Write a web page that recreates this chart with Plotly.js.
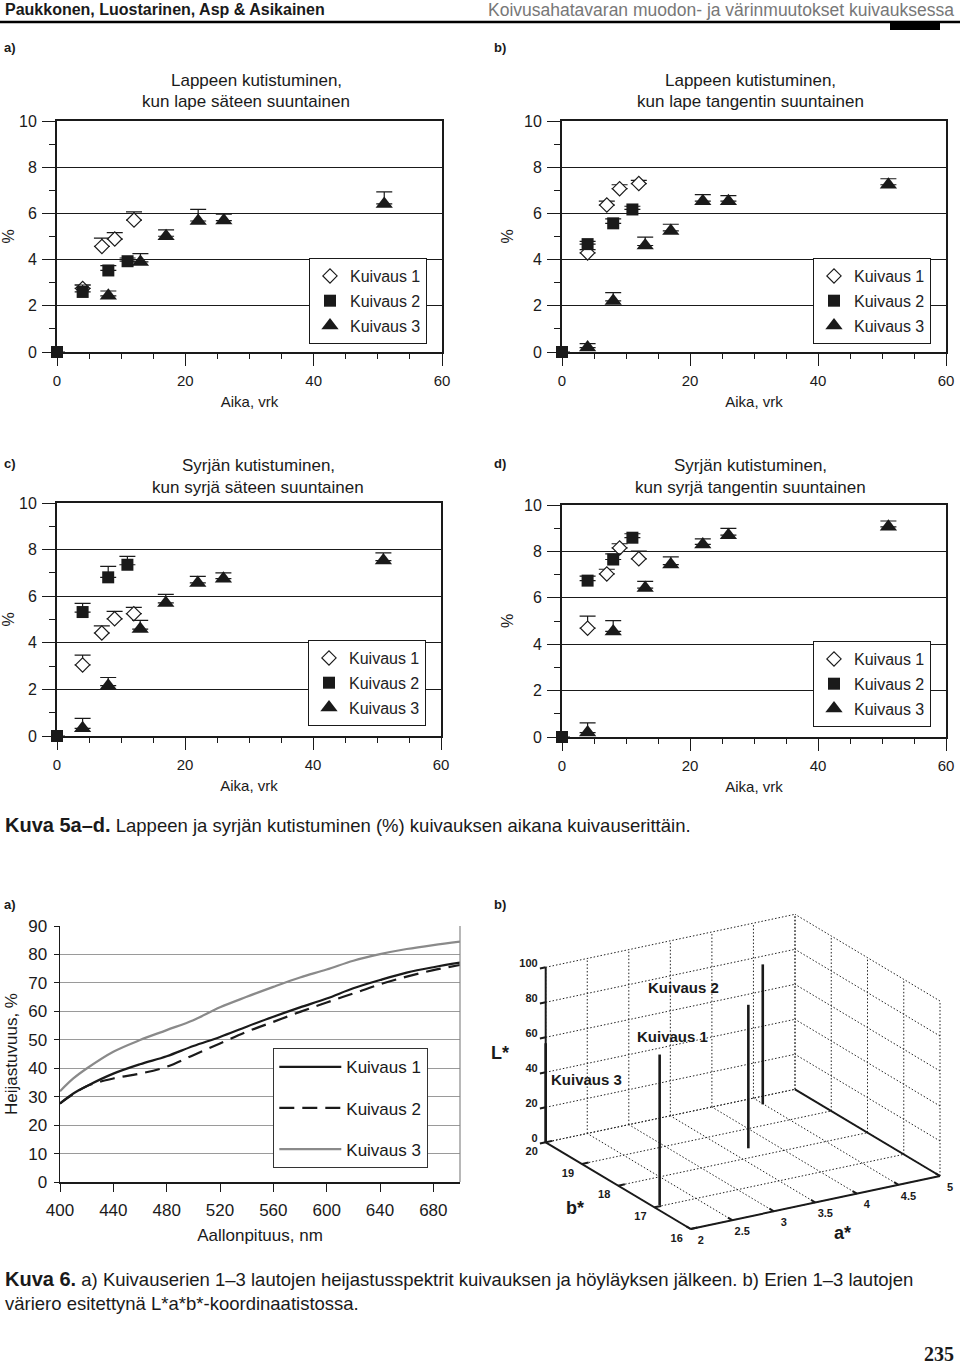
<!DOCTYPE html>
<html>
<head>
<meta charset="utf-8">
<script src="https://cdn.plot.ly/plotly-3.0.1.min.js"></script>
<style>html,body{margin:0;padding:0;background:#fff;}#chart{width:960px;height:1365px;}</style>
</head>
<body>
<div id="chart"></div>
<script>
// ---------- DATA ----------
const seriesNames = ['Kuivaus 1', 'Kuivaus 2', 'Kuivaus 3'];

// Kuva 5a: Lappeen kutistuminen, kun lape säteen suuntainen
const aK1x = [4, 7, 9, 12];            const aK1y = [2.75, 4.57, 4.89, 5.71];  const aK1e = [0.15, 0.36, 0.28, 0.36];
const aK2x = [0, 4, 8, 11];            const aK2y = [0, 2.6, 3.53, 3.93];      const aK2e = [null, 0.3, 0.21, 0.14];
const aK3x = [8, 13, 17, 22, 26, 51];  const aK3y = [2.43, 3.9, 5.01, 5.67, 5.69, 6.41]; const aK3e = [0.21, 0.36, 0.28, 0.5, 0.28, 0.52];

// Kuva 5b: Lappeen kutistuminen, kun lape tangentin suuntainen
const bK1x = [4, 7, 9, 12];            const bK1y = [4.29, 6.36, 7.07, 7.29];  const bK1e = [0.14, 0.17, 0.17, 0.14];
const bK2x = [0, 4, 8, 11];            const bK2y = [0, 4.67, 5.57, 6.17];     const bK2e = [null, 0.12, 0.19, 0.14];
const bK3x = [4, 8, 13, 17, 22, 26, 51]; const bK3y = [0.19, 2.21, 4.61, 5.24, 6.53, 6.53, 7.24]; const bK3e = [0.17, 0.36, 0.36, 0.29, 0.28, 0.24, 0.26];

// Kuva 5c: Syrjän kutistuminen, kun syrjä säteen suuntainen
const cK1x = [4, 7, 9, 12];            const cK1y = [3.05, 4.42, 5.03, 5.25];  const cK1e = [0.42, 0.31, 0.32, 0.27];
const cK2x = [0, 4, 8, 11];            const cK2y = [0, 5.32, 6.81, 7.35];     const cK2e = [null, 0.37, 0.47, 0.36];
const cK3x = [4, 8, 13, 17, 22, 26, 51]; const cK3y = [0.33, 2.16, 4.59, 5.71, 6.57, 6.75, 7.53]; const cK3e = [0.43, 0.35, 0.37, 0.37, 0.28, 0.25, 0.33];

// Kuva 5d: Syrjän kutistuminen, kun syrjä tangentin suuntainen
const dK1x = [4, 7, 9, 12];            const dK1y = [4.69, 7.03, 8.15, 7.68];  const dK1e = [0.52, 0.2, 0.18, 0.33];
const dK2x = [0, 4, 8, 11];            const dK2y = [0, 6.74, 7.65, 8.59];     const dK2e = [null, 0.19, 0.24, 0.17];
const dK3x = [4, 8, 13, 17, 22, 26, 51]; const dK3y = [0.19, 4.55, 6.42, 7.43, 8.3, 8.7, 9.06]; const dK3e = [0.42, 0.47, 0.29, 0.33, 0.24, 0.29, 0.25];

// Kuva 6a: heijastusspektrit
const wavelength = [400, 410, 420, 440, 460, 480, 500, 520, 540, 560, 580, 600, 620, 640, 660, 680, 700];
const refl1 = [27.6, 31.1, 33.7, 38.1, 41.4, 44.2, 47.8, 51.0, 54.6, 58.1, 61.4, 64.5, 68.1, 71.0, 73.6, 75.5, 77.1];
const refl2 = [27.6, 30.9, 33.7, 36.4, 38.1, 40.5, 44.6, 48.7, 52.8, 56.3, 59.8, 63.1, 66.3, 69.5, 72.2, 74.5, 76.3];
const refl3 = [31.9, 36.4, 39.9, 45.8, 49.9, 53.4, 56.9, 61.4, 65.1, 68.6, 71.9, 74.7, 77.8, 80.1, 81.9, 83.3, 84.5];

// Kuva 6b: L*a*b* (vertical stems)
const stemA = [2.0, 2.08, 3.71, 4.49];
const stemB = [20, 17.04, 18.33, 19.72];
const stemL = [56.6, 86, 82, 80];
const aTicks = [2, 2.5, 3, 3.5, 4, 4.5, 5];
const bTicks = [16, 17, 18, 19, 20];
const LTicks = [0, 20, 40, 60, 80, 100];

// ---------- HELPERS ----------
const W = 960, H = 1365;
const px = v => v / W;
const py = v => 1 - v / H;
const FONT = 'Liberation Sans, Arial, Helvetica, sans-serif';
const INK = '#1a1a1a';

const markerStyles = [
  {symbol: 'diamond', size: 11, color: 'white', line: {color: INK, width: 1.2}},
  {symbol: 'square', size: 12, color: INK, line: {color: INK, width: 0}},
  {symbol: 'triangle-up', size: 15, color: INK, line: {color: INK, width: 0}}
];

const traces = [];
function addPanel(idx, legendId, sets) {
  const xa = idx === 1 ? 'x' : 'x' + idx;
  const ya = idx === 1 ? 'y' : 'y' + idx;
  sets.forEach((s, k) => {
    traces.push({
      type: 'scatter', mode: 'markers',
      x: s[0], y: s[1],
      name: seriesNames[k],
      legend: legendId, legendgroup: legendId + '_' + k,
      xaxis: xa, yaxis: ya,
      cliponaxis: false,
      marker: markerStyles[k],
      error_y: {type: 'data', symmetric: false, array: s[2], arrayminus: s[2].map(() => 0),
                color: INK, thickness: 1.2, width: 8},
      hoverinfo: 'x+y'
    });
  });
}
addPanel(1, 'legend',  [[aK1x, aK1y, aK1e], [aK2x, aK2y, aK2e], [aK3x, aK3y, aK3e]]);
addPanel(2, 'legend2', [[bK1x, bK1y, bK1e], [bK2x, bK2y, bK2e], [bK3x, bK3y, bK3e]]);
addPanel(3, 'legend3', [[cK1x, cK1y, cK1e], [cK2x, cK2y, cK2e], [cK3x, cK3y, cK3e]]);
addPanel(4, 'legend4', [[dK1x, dK1y, dK1e], [dK2x, dK2y, dK2e], [dK3x, dK3y, dK3e]]);

// Kuva 6a lines
const lineStyles = [
  {color: INK, width: 2.2, dash: 'solid', shape: 'spline'},
  {color: INK, width: 2.2, dash: '15px,8px', shape: 'spline'},
  {color: '#8a8a8a', width: 2.2, dash: 'solid', shape: 'spline'}
];
[refl1, refl2, refl3].forEach((r, k) => {
  traces.push({
    type: 'scatter', mode: 'lines', x: wavelength, y: r,
    name: seriesNames[k], legend: 'legend5', legendgroup: 'l5_' + k,
    xaxis: 'x5', yaxis: 'y5', line: lineStyles[k]
  });
});

// Kuva 6b: oblique 3-D box drawn on a hidden 2-D axis (page-pixel units)
const A0 = aTicks[0], A1 = aTicks[aTicks.length - 1];
const B0 = bTicks[0], B1 = bTicks[bTicks.length - 1];
const L0 = LTicks[0], L1 = LTicks[LTicks.length - 1];
const VIEW = {ox: 690.7, oy: 1229, ax: 249.3, ay: -53, bx: -145, by: -86.7, lz: 175};
function proj(a, b, L) {
  const u = (a - A0) / (A1 - A0), v = (b - B0) / (B1 - B0), w = (L - L0) / (L1 - L0);
  return [VIEW.ox + u * VIEW.ax + v * VIEW.bx, VIEW.oy + u * VIEW.ay + v * VIEW.by - w * VIEW.lz];
}
function segs(list) {
  const X = [], Y = [];
  list.forEach(s => {
    const p = proj(s[0], s[1], s[2]), q = proj(s[3], s[4], s[5]);
    X.push(p[0], q[0], null); Y.push(p[1], q[1], null);
  });
  return [X, Y];
}
const gridSegs = [];
aTicks.forEach(a => { gridSegs.push([a, B1, L0, a, B1, L1]); gridSegs.push([a, B0, L0, a, B1, L0]); });
bTicks.forEach(b => { gridSegs.push([A1, b, L0, A1, b, L1]); gridSegs.push([A0, b, L0, A1, b, L0]); });
LTicks.forEach(L => { gridSegs.push([A0, B1, L, A1, B1, L]); gridSegs.push([A1, B0, L, A1, B1, L]); });
const axisSegs = [
  [A0, B1, L0, A0, B1, L1], [A0, B0, L0, A0, B1, L0], [A0, B0, L0, A1, B0, L0], [A1, B0, L0, A1, B1, L0]
];
LTicks.forEach(L => axisSegs.push([A0, B1, L, A0 - 0.07, B1, L]));
bTicks.forEach(b => axisSegs.push([A0, b, L0, A0 + 0.08, b, L0]));
aTicks.forEach(a => axisSegs.push([a, B0, L0, a, B0 + 0.12, L0]));
const stemSegs = stemA.map((a, i) => [a, stemB[i], L0, a, stemB[i], stemL[i]]);

const g = segs(gridSegs), ax3 = segs(axisSegs), st = segs(stemSegs);
traces.push({type: 'scatter', mode: 'lines', x: g[0], y: g[1], xaxis: 'x6', yaxis: 'y6', showlegend: false, hoverinfo: 'skip',
  line: {color: '#222', width: 1, dash: '1.5px,2px'}});
traces.push({type: 'scatter', mode: 'lines', x: ax3[0], y: ax3[1], xaxis: 'x6', yaxis: 'y6', showlegend: false, hoverinfo: 'skip',
  line: {color: INK, width: 2}});
traces.push({type: 'scatter', mode: 'lines', x: st[0], y: st[1], xaxis: 'x6', yaxis: 'y6', showlegend: false, hoverinfo: 'skip',
  line: {color: INK, width: 2.6}});
// tick labels
const tickFont = {size: 11, family: FONT, color: INK, weight: 'bold'};
traces.push({type: 'scatter', mode: 'text', xaxis: 'x6', yaxis: 'y6', showlegend: false, hoverinfo: 'skip',
  x: LTicks.map(L => proj(A0, B1, L)[0] - 8), y: LTicks.map(L => proj(A0, B1, L)[1] - 3),
  text: LTicks.map(String), textposition: 'middle left', textfont: tickFont});
traces.push({type: 'scatter', mode: 'text', xaxis: 'x6', yaxis: 'y6', showlegend: false, hoverinfo: 'skip',
  x: bTicks.map(b => proj(A0, b, L0)[0] - 14), y: bTicks.map(b => proj(A0, b, L0)[1] + 10),
  text: bTicks.map(String), textposition: 'middle center', textfont: tickFont});
traces.push({type: 'scatter', mode: 'text', xaxis: 'x6', yaxis: 'y6', showlegend: false, hoverinfo: 'skip',
  x: aTicks.map(a => proj(a, B0, L0)[0] + 10), y: aTicks.map(a => proj(a, B0, L0)[1] + 12),
  text: aTicks.map(String), textposition: 'middle center', textfont: tickFont});

// ---------- LAYOUT ----------
function panelX(idx) {
  const ya = idx === 1 ? 'y' : 'y' + idx;
  return {
    anchor: ya, range: [0, 60], tick0: 0, dtick: 20,
    ticks: 'outside', ticklen: 12, tickwidth: 1, tickcolor: INK,
    minor: {dtick: 5, ticks: 'outside', ticklen: 5, tickcolor: INK, tickwidth: 1, showgrid: false},
    showline: true, mirror: true, linewidth: 2, linecolor: INK,
    showgrid: false, zeroline: false,
    tickfont: {size: 15, family: FONT, color: INK},
    ticklabelstandoff: 2,
    title: {text: 'Aika, vrk', font: {size: 15, family: FONT, color: INK}, standoff: 8},
    fixedrange: true
  };
}
function panelY(idx) {
  const xa = idx === 1 ? 'x' : 'x' + idx;
  return {
    anchor: xa, range: [0, 10], tick0: 0, dtick: 2,
    ticks: 'outside', ticklen: 13, tickwidth: 1, tickcolor: INK,
    minor: {dtick: 1, ticks: 'outside', ticklen: 6, tickcolor: INK, tickwidth: 1, showgrid: false},
    showline: true, mirror: true, linewidth: 2, linecolor: INK,
    showgrid: true, gridcolor: INK, gridwidth: 1, zeroline: false,
    tickfont: {size: 16, family: FONT, color: INK},
    ticklabelstandoff: 2,
    title: {text: '%', font: {size: 16, family: FONT, color: INK}, standoff: 6},
    fixedrange: true
  };
}
function panelLegend(l, t) {
  return {
    x: px(l), y: py(t), xanchor: 'left', yanchor: 'top',
    bgcolor: 'white', bordercolor: INK, borderwidth: 1,
    font: {size: 16, family: FONT, color: '#222'},
    traceorder: 'grouped', tracegroupgap: 1, itemclick: false
  };
}

const P = [
  [57, 442, 121, 352],
  [562, 946, 121, 352],
  [57, 441, 503, 736],
  [562, 946, 505, 737]
];

function ann(text, x, y, opts) {
  return Object.assign({
    text: text, x: px(x), y: py(y), xref: 'paper', yref: 'paper',
    showarrow: false, xanchor: 'left', yanchor: 'middle',
    font: {size: 16, family: FONT, color: INK}
  }, opts || {});
}
const f = (s, extra) => Object.assign({size: s, family: FONT, color: INK}, extra || {});

const annotations = [
  ann('<b>Paukkonen, Luostarinen, Asp &amp; Asikainen</b>', 3, 10, {font: f(16)}),
  ann('Koivusahatavaran muodon- ja värinmuutokset kuivauksessa', 956, 10, {xanchor: 'right', font: f(17.5, {color: '#777'})}),
  ann('<b>a)</b>', 2, 48, {font: f(13)}),
  ann('<b>b)</b>', 492, 48, {font: f(13)}),
  ann('<b>c)</b>', 2, 463, {font: f(13)}),
  ann('<b>d)</b>', 492, 463, {font: f(13)}),
  ann('Lappeen kutistuminen,', 256, 80, {xanchor: 'center', font: f(17)}),
  ann('kun lape säteen suuntainen', 246, 102, {xanchor: 'center', font: f(17)}),
  ann('Lappeen kutistuminen,', 750, 80, {xanchor: 'center', font: f(17)}),
  ann('kun lape tangentin suuntainen', 750, 102, {xanchor: 'center', font: f(17)}),
  ann('Syrjän kutistuminen,', 258, 465, {xanchor: 'center', font: f(17)}),
  ann('kun syrjä säteen suuntainen', 258, 487, {xanchor: 'center', font: f(17)}),
  ann('Syrjän kutistuminen,', 750, 465, {xanchor: 'center', font: f(17)}),
  ann('kun syrjä tangentin suuntainen', 750, 487, {xanchor: 'center', font: f(17)}),
  ann('<b><span style="font-size:20px">Kuva 5a–d.</span></b> Lappeen ja syrjän kutistuminen (%) kuivauksen aikana kuivauserittäin.', 3, 825, {font: f(18.5)}),
  ann('<b>a)</b>', 2, 904, {font: f(13)}),
  ann('<b>b)</b>', 492, 904, {font: f(13)}),
  ann('<b>Kuivaus 2</b>', 683, 987, {xanchor: 'center', font: f(15)}),
  ann('<b>Kuivaus 1</b>', 672, 1036, {xanchor: 'center', font: f(15)}),
  ann('<b>Kuivaus 3</b>', 586, 1079, {xanchor: 'center', font: f(15)}),
  ann('<b>L*</b>', 500, 1053, {xanchor: 'center', font: f(18)}),
  ann('<b>b*</b>', 575, 1208, {xanchor: 'center', font: f(18)}),
  ann('<b>a*</b>', 842, 1233, {xanchor: 'center', font: f(18)}),
  ann('<b><span style="font-size:20px">Kuva 6.</span></b> a) Kuivauserien 1–3 lautojen heijastusspektrit kuivauksen ja höyläyksen jälkeen. b) Erien 1–3 lautojen', 3, 1279, {font: f(18.5)}),
  ann('väriero esitettynä L*a*b*-koordinaatistossa.', 3, 1303, {font: f(18.5)}),
  ann('<b>235</b>', 956, 1354, {xanchor: 'right', font: {size: 20, family: 'Liberation Serif, Times New Roman, serif', color: INK}})
];

const shapes = [
  {type: 'line', xref: 'paper', yref: 'paper', x0: 0, x1: 1, y0: py(22), y1: py(22), line: {color: 'black', width: 2.5}},
  {type: 'rect', xref: 'paper', yref: 'paper', x0: px(890), x1: px(940), y0: py(30), y1: py(22), fillcolor: 'black', line: {width: 0}},
  {type: 'line', xref: 'x5 domain', yref: 'y5 domain', x0: 1, x1: 1, y0: 0, y1: 1, line: {color: '#888', width: 1.2}}
];

const layout = {
  width: W, height: H,
  margin: {l: 0, r: 0, t: 0, b: 0},
  paper_bgcolor: 'white', plot_bgcolor: 'white',
  font: {family: FONT, color: INK},
  showlegend: true,
  annotations: annotations,
  shapes: shapes,
  legend: panelLegend(309, 258),
  legend2: panelLegend(813, 258),
  legend3: panelLegend(308, 640),
  legend4: panelLegend(813, 641),
  legend5: {
    x: px(273), y: py(1048), xanchor: 'left', yanchor: 'top',
    bgcolor: 'white', bordercolor: '#333', borderwidth: 1.3,
    font: {size: 17, family: FONT, color: INK},
    traceorder: 'grouped', tracegroupgap: 16, itemwidth: 62, itemclick: false
  },
  xaxis5: {
    domain: [px(60), px(460)], anchor: 'y5', range: [400, 700], tick0: 400, dtick: 40,
    ticks: 'outside', ticklen: 8, tickcolor: INK, tickwidth: 1,
    showline: true, linecolor: INK, linewidth: 1.5, showgrid: false, zeroline: false,
    tickfont: {size: 17, family: FONT, color: INK}, ticklabelstandoff: 4,
    title: {text: 'Aallonpituus, nm', font: {size: 17, family: FONT, color: INK}, standoff: 10},
    fixedrange: true
  },
  yaxis5: {
    domain: [py(1182), py(926)], anchor: 'x5', range: [0, 90], tick0: 0, dtick: 10,
    ticks: 'outside', ticklen: 5, tickcolor: INK, tickwidth: 1,
    showline: true, linecolor: INK, linewidth: 1.5, showgrid: true, gridcolor: '#9a9a9a', gridwidth: 1, zeroline: false,
    tickfont: {size: 17, family: FONT, color: INK}, ticklabelstandoff: 3,
    title: {text: 'Heijastuvuus, %', font: {size: 17, family: FONT, color: INK}, standoff: 6},
    fixedrange: true
  },
  xaxis6: {domain: [px(480), px(960)], range: [480, 960], anchor: 'y6', visible: false, fixedrange: true},
  yaxis6: {domain: [py(1260), py(890)], range: [1260, 890], anchor: 'x6', visible: false, fixedrange: true}
};
P.forEach((p, i) => {
  const idx = i + 1;
  const xk = idx === 1 ? 'xaxis' : 'xaxis' + idx;
  const yk = idx === 1 ? 'yaxis' : 'yaxis' + idx;
  layout[xk] = Object.assign(panelX(idx), {domain: [px(p[0]), px(p[1])]});
  layout[yk] = Object.assign(panelY(idx), {domain: [py(p[3]), py(p[2])]});
});

Plotly.newPlot('chart', traces, layout, {staticPlot: true, displayModeBar: false});
</script>
</body>
</html>
